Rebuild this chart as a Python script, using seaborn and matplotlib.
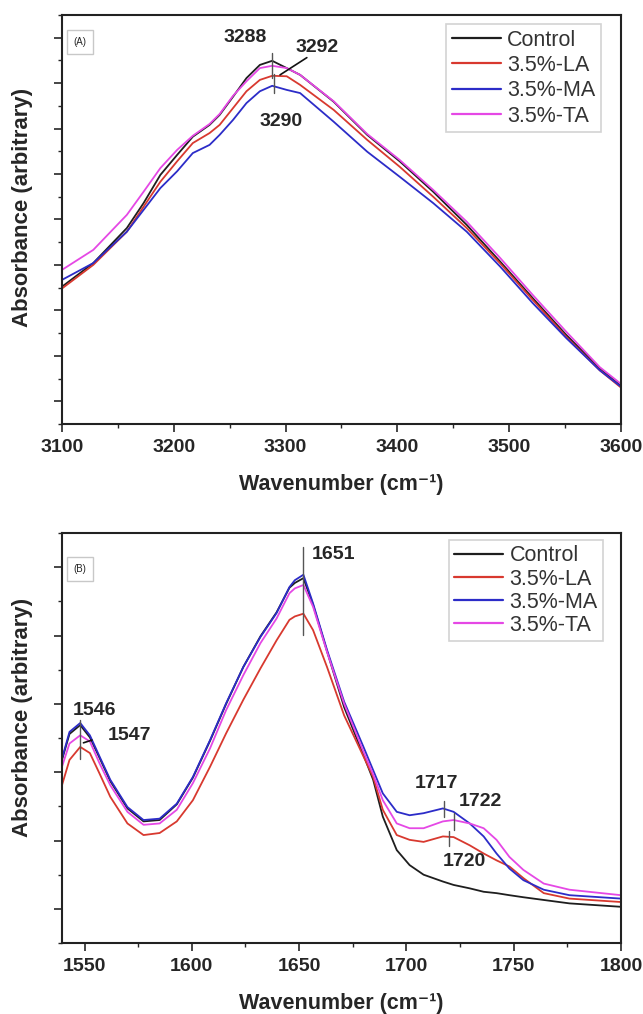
import numpy as np
import pandas as pd
import seaborn as sns
import matplotlib.pyplot as plt
from matplotlib.ticker import MultipleLocator, NullFormatter

# ---- panel A: O-H / N-H stretch region ----
wn_a = [3100, 3128, 3158, 3173, 3188, 3203, 3217, 3232, 3241, 3253, 3265,
        3277, 3288, 3301, 3313, 3343, 3373, 3402, 3432, 3462, 3492, 3521,
        3551, 3581, 3600]
control_a = [3.02, 3.54, 4.31, 4.86, 5.48, 5.92, 6.32, 6.58, 6.80, 7.20, 7.61,
             7.90, 7.99, 7.83, 7.68, 7.09, 6.36, 5.78, 5.11, 4.38, 3.57, 2.77,
             1.96, 1.22, 0.84]
la_a = [2.98, 3.50, 4.23, 4.78, 5.33, 5.78, 6.18, 6.40, 6.58, 6.95, 7.32,
        7.57, 7.66, 7.65, 7.46, 6.91, 6.25, 5.66, 5.00, 4.31, 3.53, 2.73,
        1.92, 1.18, 0.80]
ma_a = [3.17, 3.54, 4.23, 4.71, 5.19, 5.56, 5.96, 6.14, 6.36, 6.69, 7.06,
        7.32, 7.44, 7.35, 7.28, 6.65, 5.99, 5.44, 4.86, 4.23, 3.46, 2.66,
        1.89, 1.18, 0.82]
ta_a = [3.39, 3.83, 4.60, 5.11, 5.63, 6.03, 6.34, 6.60, 6.82, 7.22, 7.54,
        7.83, 7.88, 7.83, 7.68, 7.10, 6.38, 5.81, 5.15, 4.45, 3.65, 2.84,
        2.03, 1.25, 0.88]

# ---- panel B: amide region ----
wn_b = [1539.5, 1543, 1548, 1552.5, 1557, 1562, 1570, 1577.5, 1585, 1593,
        1600.5, 1608.5, 1616, 1624, 1632, 1639.5, 1645.5, 1648, 1652, 1656.5,
        1663, 1671, 1680, 1684.5, 1689, 1695.5, 1701.5, 1708, 1717, 1722,
        1729.5, 1736, 1742, 1748, 1754.5, 1764, 1776, 1800]
control_b = [2.68, 3.06, 3.19, 3.01, 2.71, 2.37, 1.97, 1.78, 1.80, 2.03,
             2.42, 2.96, 3.50, 4.04, 4.49, 4.84, 5.20, 5.27, 5.34, 4.95,
             4.27, 3.45, 2.75, 2.39, 1.85, 1.36, 1.14, 1.00, 0.90, 0.85,
             0.80, 0.75, 0.73, 0.70, 0.67, 0.63, 0.58, 0.53]
la_b = [2.31, 2.68, 2.87, 2.78, 2.48, 2.14, 1.75, 1.58, 1.61, 1.78,
        2.09, 2.58, 3.07, 3.56, 4.02, 4.43, 4.73, 4.78, 4.82, 4.58,
        4.04, 3.33, 2.73, 2.43, 1.95, 1.58, 1.51, 1.48, 1.56, 1.55,
        1.43, 1.31, 1.21, 1.12, 0.95, 0.73, 0.65, 0.60]
ma_b = [2.70, 3.09, 3.22, 3.04, 2.73, 2.39, 1.99, 1.80, 1.82, 2.04,
        2.43, 2.97, 3.51, 4.04, 4.48, 4.83, 5.21, 5.31, 5.39, 4.97,
        4.29, 3.53, 2.87, 2.53, 2.19, 1.92, 1.87, 1.90, 1.97, 1.92,
        1.75, 1.56, 1.31, 1.09, 0.92, 0.78, 0.70, 0.65]
ta_b = [2.58, 2.92, 3.04, 2.95, 2.63, 2.31, 1.92, 1.73, 1.75, 1.95,
        2.34, 2.85, 3.41, 3.92, 4.39, 4.75, 5.12, 5.19, 5.24, 4.92,
        4.26, 3.50, 2.80, 2.47, 2.09, 1.75, 1.68, 1.68, 1.78, 1.80,
        1.75, 1.68, 1.51, 1.26, 1.07, 0.87, 0.78, 0.70]

samples = ["Control", "3.5%-LA", "3.5%-MA", "3.5%-TA"]
colors = {"Control": "#1e1e1e", "3.5%-LA": "#d8392f",
          "3.5%-MA": "#2c2cc8", "3.5%-TA": "#e548e5"}

# peak labels: (text, x, y) and marker segments (x, y0, y1)
labels_a = [("3288", 3264, 8.50), ("3292", 3328, 8.29), ("3290", 3296, 6.65)]
marks_a = [(3287.5, 7.62, 8.16), (3289.5, 7.28, 7.70)]
pointer_a = ([3295, 3319], [7.68, 8.06])
labels_b = [("1651", 1666, 5.68), ("1546", 1554.5, 3.41), ("1547", 1571, 3.03),
            ("1717", 1714, 2.33), ("1722", 1734.5, 2.07), ("1720", 1727, 1.19)]
marks_b = [(1651.8, 4.51, 5.80), (1547.8, 2.70, 3.26), (1717.5, 1.85, 2.08),
           (1722.2, 1.66, 1.90), (1719.8, 1.42, 1.64)]
pointer_b = ([1549.5, 1553.5], [2.93, 2.97])


def long_frame(wn, series):
    parts = []
    for name, vals in zip(samples, series):
        parts.append(pd.DataFrame({"wn": wn, "absorb": vals, "sample": name}))
    return pd.concat(parts, ignore_index=True)


df_a = long_frame(wn_a, [control_a, la_a, ma_a, ta_a])
df_b = long_frame(wn_b, [control_b, la_b, ma_b, ta_b])

sns.set_style("ticks")
plt.rcParams["font.family"] = ["Liberation Sans", "DejaVu Sans"]

fig = plt.figure(figsize=(6.43, 10.14), dpi=100)
ax_a = fig.add_axes([0.0964, 0.5819, 0.8694, 0.4034])
ax_b = fig.add_axes([0.0964, 0.0700, 0.8694, 0.4043])


def draw_panel(ax, df, xlim, ylim, xmaj, xmin, tag, tag_xy, ylab_y, leg_anchor, spacing):
    sns.lineplot(data=df, x="wn", y="absorb", hue="sample", palette=colors,
                 estimator=None, sort=True, linewidth=1.3, ax=ax)
    ax.set_xlim(*xlim)
    ax.set_ylim(*ylim)
    ax.xaxis.set_major_locator(MultipleLocator(xmaj))
    ax.xaxis.set_minor_locator(MultipleLocator(xmin))
    ax.set_yticks(np.arange(ylim[0] + 0.5, ylim[1], 1.0))
    ax.yaxis.set_minor_locator(MultipleLocator(0.5))
    ax.yaxis.set_major_formatter(NullFormatter())
    ax.tick_params(axis="both", which="major", direction="out", length=6,
                   width=1.2, labelsize=14, pad=5)
    ax.tick_params(axis="both", which="minor", direction="out", length=3,
                   width=1.0)
    for lab in ax.get_xticklabels():
        lab.set_fontweight("bold")
    for sp in ax.spines.values():
        sp.set_linewidth(1.5)
        sp.set_color("#222222")
    ax.set_xlabel("Wavenumber (cm⁻¹)", fontsize=15.5, fontweight="bold")
    ax.set_ylabel("Absorbance (arbitrary)", fontsize=16, fontweight="bold")
    ax.xaxis.set_label_coords(0.5, -0.122)
    ax.yaxis.set_label_coords(-0.051, ylab_y)
    ax.text(tag_xy[0], tag_xy[1], tag, transform=ax.transAxes, fontsize=7,
            ha="center", va="center",
            bbox=dict(boxstyle="square,pad=0.7", facecolor="white",
                      edgecolor="#c8c8c8", linewidth=1))
    leg = ax.legend(loc="upper right", bbox_to_anchor=leg_anchor,
                    borderaxespad=0, fontsize=15.5, frameon=True,
                    fancybox=False, handlelength=2.3, handletextpad=0.28,
                    labelspacing=spacing, borderpad=0.25)
    leg.get_frame().set_edgecolor("#c8c8c8")
    leg.get_frame().set_linewidth(1.2)
    for t in leg.get_texts():
        t.set_color("#333333")
    for line in leg.get_lines():
        line.set_linewidth(1.6)


draw_panel(ax_a, df_a, (3100, 3600), (0, 9), 100, 50, "(A)", (0.032, 0.934),
           0.53, (0.964, 0.977), 0.2)
draw_panel(ax_b, df_b, (1539.5, 1800), (0, 6), 50, 25, "(B)", (0.032, 0.912),
           0.55, (0.968, 0.983), 0.1)

for txt, tx, ty in labels_a:
    ax_a.text(tx, ty, txt, fontsize=14, fontweight="bold", ha="center", va="center")
for x, y0, y1 in marks_a:
    ax_a.plot([x, x], [y0, y1], color="#555555", linewidth=1.0)
ax_a.plot(*pointer_a, color="#111111", linewidth=1.2)

for txt, tx, ty in labels_b:
    ax_b.text(tx, ty, txt, fontsize=14, fontweight="bold", ha="center", va="center")
for x, y0, y1 in marks_b:
    ax_b.plot([x, x], [y0, y1], color="#555555", linewidth=1.0)
ax_b.plot(*pointer_b, color="#111111", linewidth=1.2)

fig.savefig("out.png", dpi=100)
